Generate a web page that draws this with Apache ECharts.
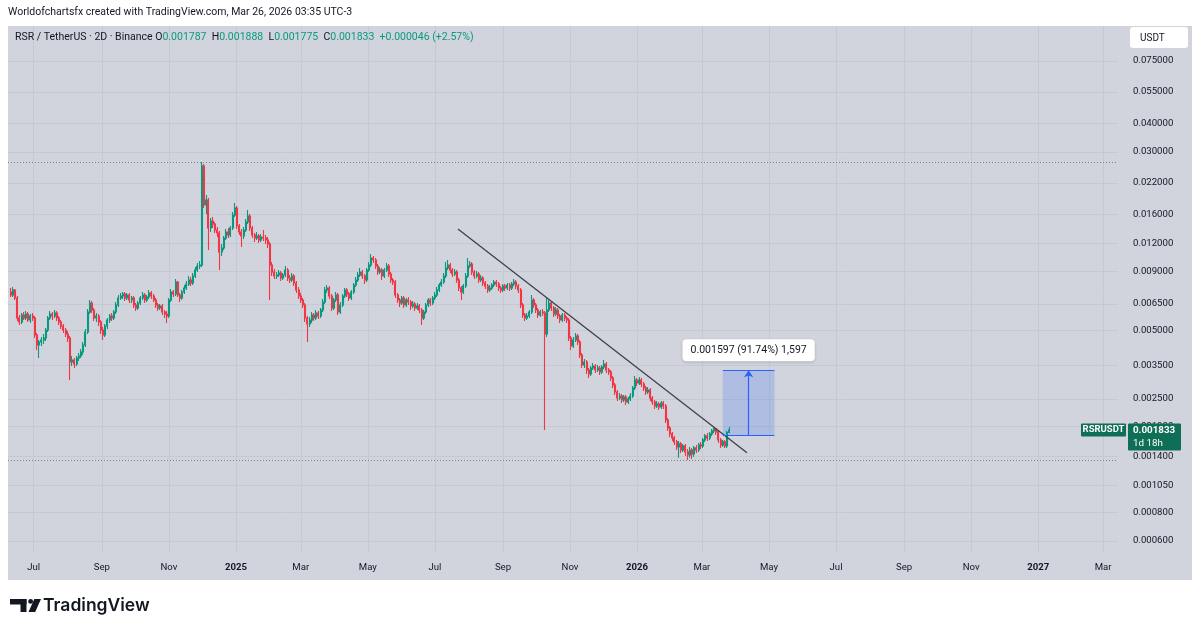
<!DOCTYPE html>
<html>
<head>
<meta charset="utf-8">
<script src="https://cdn.jsdelivr.net/npm/echarts@6/dist/echarts.min.js"></script>
<style>
html,body{margin:0;padding:0;background:#ffffff;}
#c{width:1200px;height:632px;}
</style>
</head>
<body>
<div id="c"></div>
<script>
// ---------------- DATA (prices in micro-USDT, i.e. x 1e-6) ----------------
const firstCandle = '2024-06-10';   // open time of the first 2D candle
const candleStepDays = 2;
const firstOpen = 7342;             // open of the first candle
// each later candle opens at the previous close
const closes = [
 7124,7491,6912,5652,5429,5825,5652,5884,5539,5767,
 5652,4763,4308,4440,4530,4622,5009,5652,5884,5767,
 5944,5652,5429,5215,5009,4812,4622,3630,3704,3558,
 3779,3856,4015,4308,4909,6004,6573,6126,5652,5767,
 5429,5009,4763,5215,5539,5767,5652,6004,6442,6912,
 7052,7196,6912,7124,6774,6912,6442,6250,6573,6912,
 7124,6774,6982,7268,7052,6774,6442,6250,6377,6004,
 5884,5767,6774,7342,7196,8119,7124,6912,7342,7643,
 7957,8284,8038,8624,9160,9537,9633,26080,17615,18524,
 13977,14996,14550,13698,13291,10979,11429,12639,13425,13026,
 13977,15929,17092,14261,13425,12896,13698,14846,15770,13977,
 13026,12639,12896,12387,12767,12639,12387,11898,9633,8978,
 8624,8711,8888,8452,8711,9160,8452,8284,8624,8038,
 7491,7052,6774,6442,5652,5321,5539,5825,5652,5944,
 5767,6126,6639,7491,7643,7052,6250,6774,7124,6004,
 6442,7052,7491,7196,6912,7342,7878,8284,8711,8978,
 8624,8284,9160,9633,10336,10130,9537,8978,9160,8624,
 9160,9537,8799,8284,8119,7124,6774,6573,6912,6442,
 6774,6639,6377,6507,6250,6377,6126,5652,6004,6442,
 6774,6573,6912,7124,7491,7878,8119,8624,9347,9633,
 9160,8799,8978,8284,7643,7342,7799,8624,9537,9730,
 8978,8624,8799,8284,8452,8038,7799,7491,7643,7878,
 8119,7957,7643,7491,7799,7643,7878,7643,7957,8119,
 7799,7491,6442,5825,5652,5767,6004,6774,6442,6126,
 5825,6004,5944,4812,6126,6573,6250,5884,6126,5767,
 5539,5825,5652,5539,4622,4265,4530,4716,4440,3895,
 3522,3630,3350,3218,3418,3487,3350,3418,3283,3452,
 3558,3350,3283,3091,2881,2685,2527,2579,2477,2553,
 2428,2502,2579,2795,3029,2939,3029,2910,2795,2685,
 2739,2527,2428,2332,2379,2309,2403,2332,2026,1869,
 1760,1691,1624,1544,1592,1498,1560,1469,1425,1498,
 1439,1529,1498,1576,1560,1657,1725,1691,1760,1814,
 1851,1796,1657,1576,1624,1560,1787,1833
];
const highs = [
 7643,7721,7567,7052,5825,5944,6004,6065,6004,5884,
 5944,5767,4860,4530,4669,4812,5111,5767,6065,6004,
 6126,6065,5767,5539,5321,5111,4959,4716,3856,3779,
 3856,3974,4138,4440,5060,6188,6774,6706,6250,5944,
 5884,5539,5163,5321,5652,5884,5944,6126,6639,7124,
 7268,7342,7342,7268,7268,7052,7052,6573,6706,7052,
 7342,7268,7124,7491,7416,7196,6912,6573,6507,6507,
 6126,6065,6912,7567,7491,8367,8201,7268,7491,7878,
 8201,8624,8537,8888,9441,9829,10029,27150,26609,19480,
 18901,15456,15612,14846,14118,13561,11898,12896,13837,13977,
 14261,16417,17973,17439,14550,13837,14118,15301,16751,16090,
 14261,13291,13425,13158,13158,13698,13026,12767,12140,9928,
 9253,8978,9160,9068,8888,9537,9347,8711,8888,8799,
 8201,7721,7268,6912,6573,5767,5709,6004,5944,6126,
 6065,6250,6843,7721,7878,7799,7196,6912,7342,7268,
 6639,7196,7643,7643,7342,7491,8038,8537,8978,9347,
 9160,8799,9347,9928,10760,10546,10336,9730,9441,9347,
 9347,9829,9730,8978,8452,8284,7268,6912,7052,7052,
 6912,6982,6774,6706,6639,6573,6507,6250,6126,6573,
 6912,6912,7052,7342,7721,8038,8367,8888,9928,10130,
 9829,9347,9253,9160,8452,7799,7957,8888,10336,10029,
 9928,9160,9068,8978,8711,8624,8201,7957,7878,8038,
 8284,8284,8119,7799,7957,7957,8038,8038,8119,8367,
 8284,7957,7643,6573,5944,5944,6126,7124,6912,6573,
 6250,6126,6188,6065,6912,6774,6706,6377,6314,6250,
 5884,5944,5944,5767,5652,4716,4669,4860,4812,4530,
 3974,3742,3704,3418,3487,3594,3558,3522,3487,3522,
 3704,3630,3418,3350,3154,2939,2739,2658,2631,2605,
 2605,2553,2658,2852,3154,3091,3122,3091,2969,2852,
 2823,2795,2579,2477,2452,2428,2452,2452,2379,2067,
 1907,1796,1725,1657,1640,1624,1592,1592,1514,1544,
 1529,1560,1576,1608,1624,1691,1760,1778,1796,1851,
 1880,1869,1832,1691,1657,1657,1814,1888
];
const lows = [
 6982,6982,6774,5484,5267,5321,5539,5539,5429,5375,
 5484,4622,4096,3779,4265,4351,4485,4909,5539,5539,
 5652,5484,5267,5060,4860,4669,4440,3029,3487,3418,
 3487,3667,3779,3895,4222,4812,5884,5944,5484,5429,
 5215,4812,4530,4669,5060,5375,5484,5539,5884,6314,
 6774,6843,6706,6774,6573,6573,6250,6065,6126,6442,
 6774,6573,6639,6843,6843,6639,6250,6065,6126,5825,
 5652,5375,5652,6639,6982,7052,6982,6639,6774,7196,
 7491,7799,7799,7878,8452,8978,9253,9441,17092,16090,
 11202,13425,13977,13291,12767,9160,10546,11202,12387,12639,
 12767,13698,15612,13837,13026,11545,12512,13425,14550,13561,
 12639,12140,12387,12019,12140,12263,11898,11429,6774,8624,
 8367,8367,8537,8201,8284,8537,8201,8038,8119,7799,
 7268,6843,6573,6250,5429,4440,5163,5375,5484,5539,
 5596,5652,6004,6507,7268,6843,6065,6126,6639,5825,
 5884,6314,6912,6982,6706,6774,7196,7721,8119,8537,
 8367,7957,8119,8978,9441,9829,9253,8711,8799,8284,
 8452,8978,8537,8038,7878,6912,6573,6314,6442,6250,
 6314,6442,6126,6250,6065,6126,5944,5267,5539,5884,
 6314,6377,6442,6774,6982,7342,7721,7957,8452,9160,
 8888,8537,8624,8038,7416,6774,7196,7643,8452,9347,
 8711,8367,8452,8038,8119,7799,7567,7268,7342,7491,
 7721,7721,7416,7268,7342,7416,7491,7416,7491,7799,
 7567,7268,6250,5652,5484,5539,5652,5884,6250,5944,
 5652,5709,5767,1832,4669,6004,6065,5709,5767,5596,
 5375,5429,5484,5375,4485,4096,4180,4440,4308,3779,
 3418,3418,3218,3091,3154,3350,3250,3283,3186,3218,
 3384,3250,3186,2999,2795,2605,2452,2477,2403,2428,
 2356,2379,2452,2527,2739,2852,2881,2823,2712,2605,
 2631,2452,2356,2263,2286,2240,2263,2263,1966,1814,
 1708,1640,1576,1498,1383,1454,1469,1411,1355,1383,
 1369,1397,1454,1469,1514,1529,1624,1640,1657,1725,
 1778,1742,1608,1529,1544,1529,1529,1775
];
// axis ticks as printed
const priceTicks = [0.075,0.055,0.04,0.03,0.022,0.016,0.012,0.009,0.0065,0.005,0.0035,0.0025,0.0019,0.0014,0.00105,0.0008,0.0006];
const monthTicks = ['2024-07-01','2024-09-01','2024-11-01','2025-01-01','2025-03-01','2025-05-01','2025-07-01','2025-09-01','2025-11-01','2026-01-01','2026-03-01','2026-05-01','2026-07-01','2026-09-01','2026-11-01','2027-01-01','2027-03-01'];
const monthNames = ['Jan','Feb','Mar','Apr','May','Jun','Jul','Aug','Sep','Oct','Nov','Dec'];
// visible ranges
const timeRange = ['2024-06-07T14:00:00Z','2027-03-14T14:00:00Z'];
const priceRange = [0.000531, 0.1067];
// drawings
const trendDates = ['2025-07-22','2026-04-11'];
const trendPrices = [0.01383, 0.001455];
const measureDates = ['2026-03-20','2026-05-06'];
const measurePrices = [0.0017408, 0.0033378];
const measureLabel = '0.001597 (91.74%) 1,597';
const countdownLabel = '1d 18h';

// ---------------- BUILD ----------------
const DAY = 86400000;
const ts = s => Date.parse(s.length === 10 ? s + 'T00:00:00Z' : s);
const start = ts(firstCandle);
const candles = closes.map((c, i) => [
  start + i * candleStepDays * DAY,
  (i === 0 ? firstOpen : closes[i - 1]) / 1e6,
  c / 1e6,
  lows[i] / 1e6,
  highs[i] / 1e6
]);
const maxHigh = Math.max.apply(null, highs) / 1e6;
const minLow = Math.min.apply(null, lows) / 1e6;
const monthTs = monthTicks.map(ts);
const xMin = ts(timeRange[0]), xMax = ts(timeRange[1]);
const last = candles[candles.length - 1];
const lastOpen = last[1], lastClose = last[2], lastLow = last[3], lastHigh = last[4];
const chg = lastClose - lastOpen;
const chgPct = chg / lastOpen * 100;

const UP = '#089981', DOWN = '#f23645', BLUE = '#2962ff';
const FONT = 'Roboto, "Noto Sans", sans-serif';
const t1 = ts(measureDates[0]), t2 = ts(measureDates[1]), tMid = (t1 + t2) / 2;
const DOTTED = { color: '#7d808a', type: [1, 2], width: 1 };

const chart = echarts.init(document.getElementById('c'));
chart.setOption({
  animation: false,
  backgroundColor: 'transparent',
  textStyle: { fontFamily: FONT },
  grid: { left: 8, right: 82, top: 26, bottom: 79, containLabel: false },
  xAxis: {
    type: 'value',
    min: xMin, max: xMax,
    axisLine: { show: false },
    axisTick: { show: false, customValues: monthTs },
    axisLabel: {
      customValues: monthTs,
      color: '#131722', fontSize: 9.6, margin: 10,
      formatter: v => {
        const d = new Date(v);
        return d.getUTCMonth() === 0 ? '{y|' + d.getUTCFullYear() + '}' : monthNames[d.getUTCMonth()];
      },
      rich: { y: { fontWeight: 'bold', fontSize: 9.6, color: '#131722' } }
    },
    splitLine: { show: true, lineStyle: { color: '#c6c9d1', width: 1 } }
  },
  yAxis: {
    type: 'log',
    position: 'right',
    min: priceRange[0], max: priceRange[1],
    axisLine: { show: false },
    axisTick: { show: false, customValues: priceTicks },
    axisLabel: {
      customValues: priceTicks,
      color: '#131722', fontSize: 9.6, margin: 15,
      formatter: v => Number(v).toFixed(6)
    },
    splitLine: { show: true, lineStyle: { color: '#c6c9d1', width: 1 } }
  },
  series: [{
    type: 'candlestick',
    data: candles,
    encode: { x: 0, y: [1, 2, 3, 4] },
    barWidth: 1.5,
    itemStyle: { color: UP, color0: DOWN, borderColor: UP, borderColor0: DOWN, borderWidth: 1.1 },
    markLine: {
      silent: true, animation: false, symbol: ['none', 'none'],
      label: { show: false },
      emphasis: { disabled: true },
      data: [
        [ { coord: [xMin, maxHigh], lineStyle: DOTTED }, { coord: [xMax, maxHigh] } ],
        [ { coord: [xMin, minLow], lineStyle: DOTTED }, { coord: [xMax, minLow] } ],
        [
          { coord: [ts(trendDates[0]), trendPrices[0]], lineStyle: { color: '#3f4149', width: 1.3, type: 'solid' } },
          { coord: [ts(trendDates[1]), trendPrices[1]] }
        ],
        [
          { coord: [t1, measurePrices[1]], lineStyle: { color: BLUE, width: 1.2, type: 'solid' } },
          { coord: [t2, measurePrices[1]] }
        ],
        [
          { coord: [t1, measurePrices[0]], lineStyle: { color: BLUE, width: 1.2, type: 'solid' } },
          { coord: [t2, measurePrices[0]] }
        ],
        [
          { coord: [tMid, measurePrices[0]], symbol: 'none', lineStyle: { color: BLUE, width: 1.2, type: 'solid' } },
          { coord: [tMid, measurePrices[1]], symbol: 'arrow', symbolSize: [7, 7] }
        ]
      ]
    },
    markArea: {
      silent: true,
      itemStyle: { color: 'rgba(41,98,255,0.2)' },
      data: [[{ coord: [t1, measurePrices[1]] }, { coord: [t2, measurePrices[0]] }]]
    },
    markPoint: {
      silent: true, animation: false,
      data: [{
        coord: [tMid, measurePrices[1]], symbol: 'circle', symbolSize: 0.01,
        itemStyle: { color: 'rgba(0,0,0,0)' },
        label: {
          show: true, position: 'top', distance: 9, formatter: measureLabel,
          color: '#131722', fontSize: 10.5, fontFamily: FONT,
          backgroundColor: '#ffffff', borderRadius: 4, padding: [6, 8, 5, 8],
          shadowColor: 'rgba(0,0,0,0.18)', shadowBlur: 3, shadowOffsetY: 1
        }
      }]
    }
  }]
});

// right-axis price tag placed through the axis scale
const yLast = chart.convertToPixel({ yAxisIndex: 0 }, lastClose);
const TAG = '#0f6e56';
const legendText =
  '{d|RSR / TetherUS · 2D · Binance} {d|O}{g|' + lastOpen.toFixed(6) + '}  {d|H}{g|' + lastHigh.toFixed(6) +
  '}  {d|L}{g|' + lastLow.toFixed(6) + '}  {d|C}{g|' + lastClose.toFixed(6) + '}  {g|' +
  (chg >= 0 ? '+' : '') + chg.toFixed(6) + ' (' + (chg >= 0 ? '+' : '') + chgPct.toFixed(2) + '%)}';

chart.setOption({
  graphic: [
    { type: 'rect', silent: true, z: -10, shape: { x: 8, y: 26, width: 1184, height: 554 }, style: { fill: '#d1d4dc' } },
    { type: 'text', silent: true, x: 8, y: 12,
      style: { text: 'Worldofchartsfx created with TradingView.com, Mar 26, 2026 03:35 UTC-3', fill: '#131722', fontSize: 10.5, fontFamily: FONT, verticalAlign: 'middle' } },
    { type: 'text', silent: true, x: 15, y: 37, z: 5,
      style: { text: legendText, fontSize: 10.5, fontFamily: FONT, verticalAlign: 'middle',
        rich: { d: { fill: '#131722', fontSize: 10.5, fontFamily: FONT }, g: { fill: UP, fontSize: 10.5, fontFamily: FONT } } } },
    { type: 'rect', silent: true, z: 5, shape: { x: 1130, y: 27, width: 58, height: 21, r: 3 }, style: { fill: '#ffffff' } },
    { type: 'text', silent: true, z: 6, x: 1140, y: 38, style: { text: 'USDT', fill: '#131722', fontSize: 10, fontFamily: FONT, verticalAlign: 'middle' } },
    { type: 'rect', silent: true, z: 5, shape: { x: 1081, y: yLast - 6.5, width: 45, height: 13, r: 1 }, style: { fill: TAG } },
    { type: 'text', silent: true, z: 6, x: 1103.5, y: yLast, style: { text: 'RSRUSDT', fill: '#ffffff', fontSize: 9.5, fontWeight: 'bold', fontFamily: FONT, align: 'center', verticalAlign: 'middle' } },
    { type: 'rect', silent: true, z: 5, shape: { x: 1128, y: yLast - 6.5, width: 53, height: 27, r: 1 }, style: { fill: TAG } },
    { type: 'text', silent: true, z: 6, x: 1133, y: yLast + 0.5, style: { text: lastClose.toFixed(6), fill: '#ffffff', fontSize: 9.8, fontWeight: 'bold', fontFamily: FONT, verticalAlign: 'middle' } },
    { type: 'text', silent: true, z: 6, x: 1133, y: yLast + 13.5, style: { text: countdownLabel, fill: '#ffffff', fontSize: 9.8, fontFamily: FONT, verticalAlign: 'middle' } },
    // TradingView logo
    { type: 'rect', silent: true, shape: { x: 10, y: 599, width: 16.5, height: 5.5 }, style: { fill: '#131722' } },
    { type: 'rect', silent: true, shape: { x: 20.5, y: 599, width: 6, height: 13 }, style: { fill: '#131722' } },
    { type: 'circle', silent: true, shape: { cx: 30.6, cy: 601.4, r: 2.4 }, style: { fill: '#131722' } },
    { type: 'polygon', silent: true, shape: { points: [[34.3, 599], [41, 599], [35.2, 612], [28.5, 612]] }, style: { fill: '#131722' } },
    { type: 'text', silent: true, x: 43, y: 606,
      style: { text: 'TradingView', fill: '#131722', fontSize: 17.5, fontWeight: 600, fontFamily: 'Inter, Roboto, sans-serif', verticalAlign: 'middle' } }
  ]
});
</script>
</body>
</html>
